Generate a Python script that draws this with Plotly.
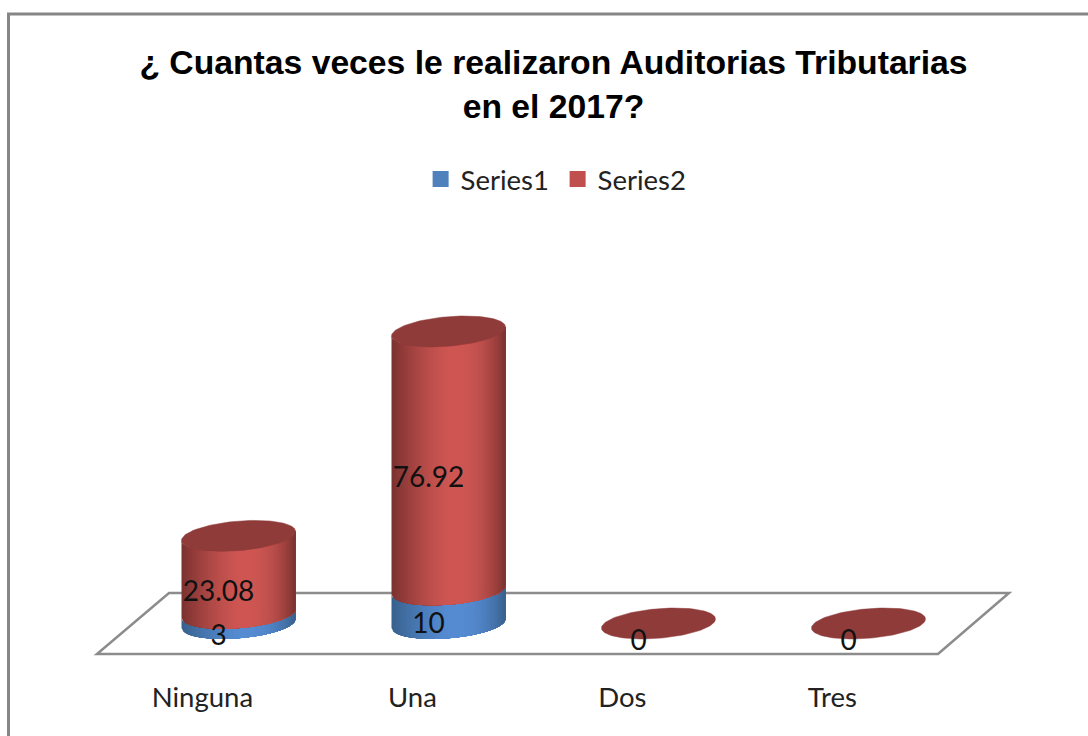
import numpy as np
import plotly.graph_objects as go

categories = ["Ninguna", "Una", "Dos", "Tres"]
series1 = [3, 10, 0, 0]
series2 = [23.08, 76.92, 0, 0]
label1 = ["3", "10", "0", "0"]
label2 = ["23.08", "76.92", "", ""]
title_text = "¿ Cuantas veces le realizaron Auditorias Tributarias<br>en el 2017?"

W, H = 1088, 736
PX_X = 210.0      # pixels per category
PX_Y = 3.36       # pixels per value unit
X0_PX, Y0_PX = 238.5, 623.5
AXIS_BOTTOM_PX = 675
HALF_W = 57 / PX_X
TILT = 4.5 / PX_Y
HALF_D = 14.8 / PX_Y
STRIPS = 56

x_range = [-X0_PX / PX_X, (W - X0_PX) / PX_X]
y_range = [-(AXIS_BOTTOM_PX - Y0_PX) / PX_Y, Y0_PX / PX_Y]


def front(u):
    return TILT * u - HALF_D * np.sqrt(np.clip(1 - u * u, 0, 1))


def shade(u, dark, light):
    # brightest slightly right of centre, falling to the dark tone at both edges
    peak = 0.08
    d = (u - peak) / (1 - peak) if u > peak else (peak - u) / (1 + peak)
    t = 1 - d ** (2.4 if u > peak else 1.5)
    c = [dark[i] + (light[i] - dark[i]) * t for i in range(3)]
    return "rgb(%d,%d,%d)" % tuple(c)


RED_D, RED_L = (122, 50, 48), (207, 87, 83)
BLUE_D, BLUE_L = (56, 96, 140), (86, 140, 210)
TOP = "#8e3b3a"

fig = go.Figure()

# Actual stacked bars; the cylinder faces are laid over them
fig.add_bar(x=list(range(4)), y=series1, width=0.4, marker_color="#4f81bd", showlegend=False, hoverinfo="skip")
fig.add_bar(x=list(range(4)), y=series2, width=0.4, marker_color="#c0504d", showlegend=False, hoverinfo="skip")

edges = np.linspace(-1, 1, STRIPS + 1)
curve = np.linspace(-1, 1, 113)


def add_face(cx, lo, hi, dark, light):
    # painted left to right, each layer reaching the right edge, so no seams appear
    for a, b in zip(edges[:-1], edges[1:]):
        col = shade((a + b) / 2, dark, light)
        us = np.concatenate(([a], curve[curve > a]))
        xs = np.concatenate((cx + us * HALF_W, cx + us[::-1] * HALF_W))
        ys = np.concatenate((lo + front(us), hi + front(us[::-1])))
        fig.add_scatter(x=xs, y=ys, mode="lines", fill="toself", fillcolor=col,
                        line=dict(width=0), showlegend=False, hoverinfo="skip")


for i in range(len(categories)):
    s1, s2 = series1[i], series2[i]
    if s1 > 0:
        add_face(i, 0, s1, BLUE_D, BLUE_L)
    if s2 > 0:
        add_face(i, s1, s1 + s2, RED_D, RED_L)
    t = np.linspace(0, 2 * np.pi, 120)
    fig.add_scatter(x=i + HALF_W * np.cos(t),
                    y=s1 + s2 + TILT * np.cos(t) + HALF_D * np.sin(t),
                    mode="lines", fill="toself", fillcolor=TOP,
                    line=dict(color=TOP, width=0.5), showlegend=False, hoverinfo="skip")

# Data labels
LBL_DX, LBL_DY = -0.095, -19.5 / PX_Y
lab_font = dict(family="Lato, 'Open Sans', sans-serif", size=28, color="#111111")
fig.add_scatter(x=[i + LBL_DX for i in range(4)],
                y=[series1[i] / 2 + LBL_DY for i in range(4)],
                mode="text", text=label1, textfont=lab_font, showlegend=False, hoverinfo="skip")
fig.add_scatter(x=[i + LBL_DX for i in range(4)],
                y=[series1[i] + series2[i] / 2 + LBL_DY for i in range(4)],
                mode="text", text=label2, textfont=lab_font, showlegend=False, hoverinfo="skip")

# Legend keys
for name, col in (("Series1", "#4f81bd"), ("Series2", "#c0504d")):
    fig.add_scatter(x=[None], y=[None], mode="markers", name=name,
                    marker=dict(symbol="square", size=16, color=col), hoverinfo="skip")


def px(x):
    return x / W


def py(y):
    return 1 - y / H


floor = [(97, 654), (938, 654), (1009, 593), (169, 593)]
floor_path = "M " + " L ".join(f"{px(a):.5f},{py(b):.5f}" for a, b in floor) + " Z"
frame_path = f"M {px(8.5):.5f},{py(736):.5f} L {px(8.5):.5f},{py(14):.5f} L {px(1088):.5f},{py(14):.5f}"

fig.update_layout(
    width=W, height=H, autosize=False,
    margin=dict(l=0, r=0, t=0, b=0, pad=0),
    paper_bgcolor="white", plot_bgcolor="rgba(0,0,0,0)",
    barmode="stack",
    title=dict(text=title_text, x=553.5 / W, xanchor="center", xref="paper",
               y=1 - 74 / H, yanchor="top", yref="container",
               font=dict(family="Liberation Sans, Arial, sans-serif", size=33.7, color="#000000", weight="bold")),
    legend=dict(orientation="h", traceorder="normal", x=0.3866, xanchor="left", y=1 - 179 / H, yanchor="middle",
                entrywidth=92, entrywidthmode="pixels",
                font=dict(family="Lato, 'Open Sans', sans-serif", size=27.5, color="#222222"),
                bgcolor="rgba(0,0,0,0)", itemclick=False, itemdoubleclick=False),
    xaxis=dict(range=x_range, tickmode="array",
               tickvals=[i - 0.172 for i in range(4)], ticktext=categories,
               showgrid=False, zeroline=False, showline=False, ticks="", ticklabelstandoff=3,
               tickfont=dict(family="Lato, 'Open Sans', sans-serif", size=27.5, color="#222222")),
    yaxis=dict(range=y_range, domain=[1 - AXIS_BOTTOM_PX / H, 1], visible=False),
    shapes=[
        dict(type="path", path=floor_path, xref="paper", yref="paper", layer="below",
             line=dict(color="#8c8c8c", width=2.5), fillcolor="rgba(255,255,255,0)"),
        dict(type="path", path=frame_path, xref="paper", yref="paper", layer="below",
             line=dict(color="#868686", width=3)),
    ],
)

fig.write_html("out.html", config=dict(displayModeBar=False),
               post_script="document.body.style.margin='0';document.body.style.overflow='hidden';")
